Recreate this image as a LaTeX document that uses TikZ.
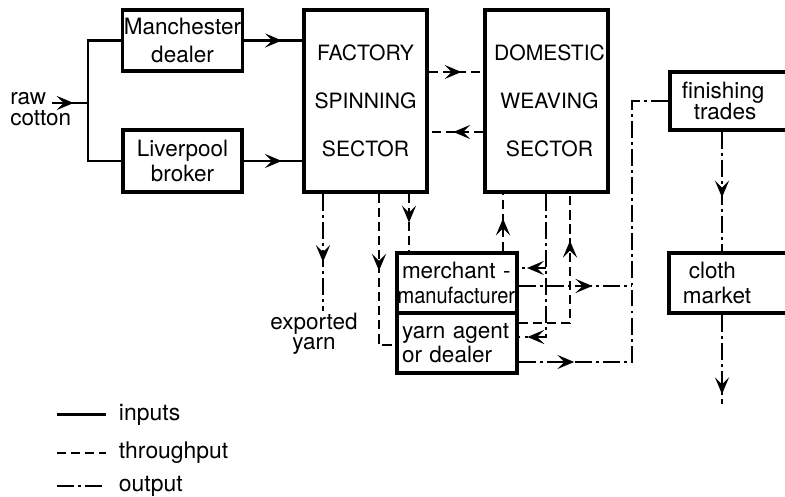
\documentclass[tikz,border=0pt]{standalone}
\usepackage{fontspec}
\setmainfont{TeX Gyre Heros}
\usetikzlibrary{arrows.meta,decorations.markings}

\newcommand\diagfont{\fontsize{16}{17.5}\selectfont}
\newcommand\keyfont{\fontsize{16.3}{18}\selectfont}
\newcommand\sectorfont{\fontsize{15}{17}\selectfont}

\begin{document}
\begin{tikzpicture}[
  every node/.style={font=\diagfont},
  box/.style={draw, line width=2.6pt, inner sep=1pt, align=center},
  input/.style={line width=2pt},
  through/.style={line width=2pt, dash pattern=on 6.5pt off 3.5pt},
  output/.style={line width=2pt, dash pattern=on 12pt off 3pt on 2pt off 3pt},
  midarrow/.style={postaction={decorate, decoration={markings,
      mark=at position #1 with {\arrow[solid]{Stealth[length=12pt,width=10pt,inset=5pt]}}}}},
  midarrow/.default=0.55,
]
\useasboundingbox (0,0) rectangle (19.625,12.425);
\clip (0,0) rectangle (19.625,12.425);

% sources
\node[align=left, inner sep=0pt, anchor=west] (raw) at (0.25,9.7) {raw\\[-3pt]cotton};
\node[box, minimum width=2.975cm, minimum height=1.525cm] (manch) at (4.5625,11.4125) {Manchester\\[3pt]dealer};
\node[box, minimum width=2.975cm, minimum height=1.55cm] (liver) at (4.5625,8.4) {Liverpool\\broker};

% sectors
\node[box, font=\sectorfont, minimum width=3.075cm, minimum height=4.55cm] (factory) at (9.1375,9.9) {FACTORY\\[17pt]SPINNING\\[17pt]SECTOR};
\node[box, font=\sectorfont, minimum width=3.075cm, minimum height=4.55cm] (domestic) at (13.6625,9.9) {\hspace*{0.15cm}DOMESTIC\\[17pt]\hspace*{0.15cm}WEAVING\\[17pt]\hspace*{0.15cm}SECTOR};

% middlemen
\node[box, minimum height=1.5cm, text width=2.75cm, inner xsep=0.125cm, align=left] (merch) at (11.425,5.35) {merchant -\\\hspace*{-0.11cm}\scalebox{0.89}[1]{manufacturer}};
\node[box, minimum height=1.5cm, text width=2.75cm, inner xsep=0.125cm, align=left] (yarn) at (11.425,3.85) {yarn agent\\or dealer};
\node[align=center, inner sep=1pt] (exported) at (7.85,4.075) {exported\\[-3pt]yarn};

% markets
\node[box, anchor=west, minimum height=1.45cm, text width=3.2cm, inner xsep=0.3cm, align=left] (finish) at (16.7,9.9) {finishing\\[-3pt]\hspace*{0.3cm}trades};
\node[box, anchor=west, minimum height=1.5cm, text width=3.2cm, inner xsep=0.35cm, align=left] (cloth) at (16.675,5.35) {\hspace*{0.15cm}cloth\\market};

\coordinate (rawtip) at (1.3,9.85);
\coordinate (split) at (2.2,9.85);
\coordinate (branch) at (13.65,5.725);
\coordinate (join) at (15.8,5.275);
\coordinate (sale) at (18.05,2.325);

% inputs
\draw[input, midarrow=0.6] (rawtip) -- (split);
\draw[input] (manch.west) -| (split) |- (liver.west);
\draw[input, midarrow=0.65] (manch.east) -- (manch.east -| factory.west);
\draw[input, midarrow=0.65] (liver.east) -- (liver.east -| factory.west);

% between the sectors
\draw[through, midarrow=0.6] (factory.east |- 0,10.625) -- (domestic.west |- 0,10.625);
\draw[through, midarrow=0.55] (domestic.west |- 0,9.125) -- (factory.east |- 0,9.125);

% below the factory
\draw[output, midarrow=0.58] (factory.south -| 8.075,0) -- (exported.north -| 8.075,0);
\draw[through, midarrow=0.46] (factory.south -| 9.475,0) |- (yarn.west |- 0,3.8);
\draw[through, midarrow=0.5] (factory.south -| 10.225,0) -- (merch.north -| 10.225,0);

% below the domestic sector
\draw[through, midarrow=0.57] (merch.north -| 12.575,0) -- (domestic.south -| 12.575,0);
\draw[output, midarrow=0.95] (domestic.south -| 13.65,0) |- (yarn.east |- 0,4.0);
\draw[output, midarrow=0.7] (branch) -- (merch.east |- branch);
\draw[through, midarrow=0.74] (yarn.east |- 0,4.35) -| (domestic.south -| 14.25,0);

% to the markets
\draw[output, midarrow=0.65] (merch.east |- join) -- (join);
\draw[output, midarrow=0.135] (yarn.east |- 0,3.375) -| (finish.west -| 15.8,0) -- (finish.west);
\draw[output, midarrow=0.55] (finish.south -| 18.05,0) -- (cloth.north -| 18.05,0);
\draw[output, midarrow=0.89] (cloth.south -| sale) -- (sale);

% key
\node[anchor=west, font=\keyfont] (kin) at (2.85,2.06) {inputs};
\node[anchor=west, font=\keyfont] (kthrough) at (2.85,1.1) {throughput};
\node[anchor=west, font=\keyfont] (kout) at (2.85,0.275) {output};
\draw[input] ([xshift=-1.425cm]kin.west) -- ([xshift=-0.2cm]kin.west);
\draw[through] ([xshift=-1.425cm]kthrough.west) -- ([xshift=-0.2cm]kthrough.west);
\draw[output] ([xshift=-1.425cm]kout.west) -- ([xshift=-0.2cm]kout.west);
\end{tikzpicture}
\end{document}
